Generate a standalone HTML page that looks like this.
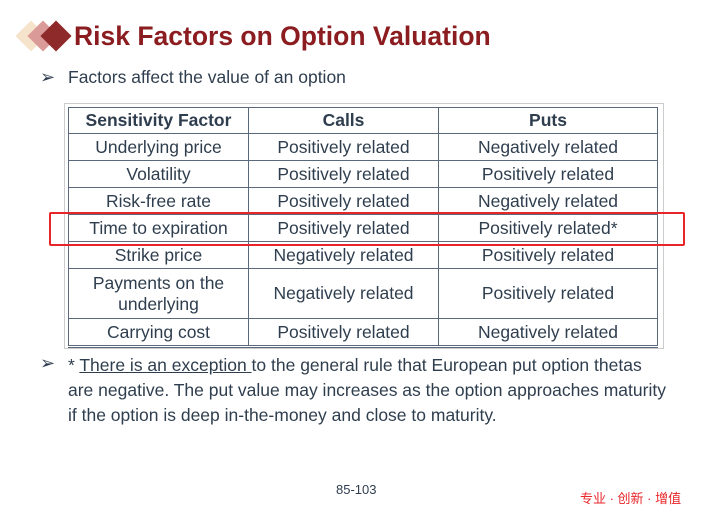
<!DOCTYPE html>
<html><head><meta charset="utf-8"><style>
body{margin:0;width:702px;height:511px;background:#fff;position:relative;overflow:hidden;font-family:"Liberation Sans","Noto Sans CJK SC",sans-serif;color:#2f3e4e}
.a{position:absolute}
.d{position:absolute;width:22px;height:22px;transform:rotate(45deg)}
table{position:absolute;left:68px;top:107px;width:590px;border-collapse:collapse;font-size:17.5px}
td,th{border:1px solid #5a6a7c;text-align:center;padding:0;line-height:21px}
th{font-weight:bold;height:25px}
td{height:26px}
</style></head><body>
<div class="d" style="left:20px;top:25px;background:#f6e3cc"></div>
<div class="d" style="left:32px;top:25px;background:#d99a98"></div>
<div class="d" style="left:45px;top:25px;background:#8e2a2a"></div>
<div class="a" style="left:74px;top:21px;font-size:26.5px;font-weight:bold;color:#8b1c1f">Risk Factors on Option Valuation</div>
<div class="a" style="left:40px;top:67px;font-size:18px">➢</div>
<div class="a" style="left:68px;top:67px;font-size:17.5px">Factors affect the value of an option</div>
<div class="a" style="left:64px;top:103px;width:598px;height:244px;border:1px solid #ccc"></div>
<table>
<tr><th style="width:179px">Sensitivity Factor</th><th style="width:189px">Calls</th><th>Puts</th></tr>
<tr><td>Underlying price</td><td>Positively related</td><td>Negatively related</td></tr>
<tr><td>Volatility</td><td>Positively related</td><td>Positively related</td></tr>
<tr><td>Risk-free rate</td><td>Positively related</td><td>Negatively related</td></tr>
<tr><td>Time to expiration</td><td>Positively related</td><td>Positively related*</td></tr>
<tr><td>Strike price</td><td>Negatively related</td><td>Positively related</td></tr>
<tr><td style="height:49px">Payments on the<br>underlying</td><td>Negatively related</td><td>Positively related</td></tr>
<tr><td style="border-bottom:3px double #5a6a7c">Carrying cost</td><td style="border-bottom:3px double #5a6a7c">Positively related</td><td style="border-bottom:3px double #5a6a7c">Negatively related</td></tr>
</table>
<div class="a" style="left:49px;top:212px;width:632px;height:30px;border:2px solid #e8262a;border-radius:2px"></div>
<div class="a" style="left:40px;top:353px;font-size:18px">➢</div>
<div class="a" style="left:68px;top:353px;font-size:17.5px;line-height:25px;white-space:nowrap">* <u>There is an exception </u>to the general rule that European put option thetas<br>are negative. The put value may increases as the option approaches maturity<br>if the option is deep in-the-money and close to maturity.</div>
<div class="a" style="left:336px;top:482px;font-size:13px">85-103</div>
<div class="a" style="left:580px;top:488px;font-size:13px;color:#e8262a">专业 · 创新 · 增值</div>
</body></html>
